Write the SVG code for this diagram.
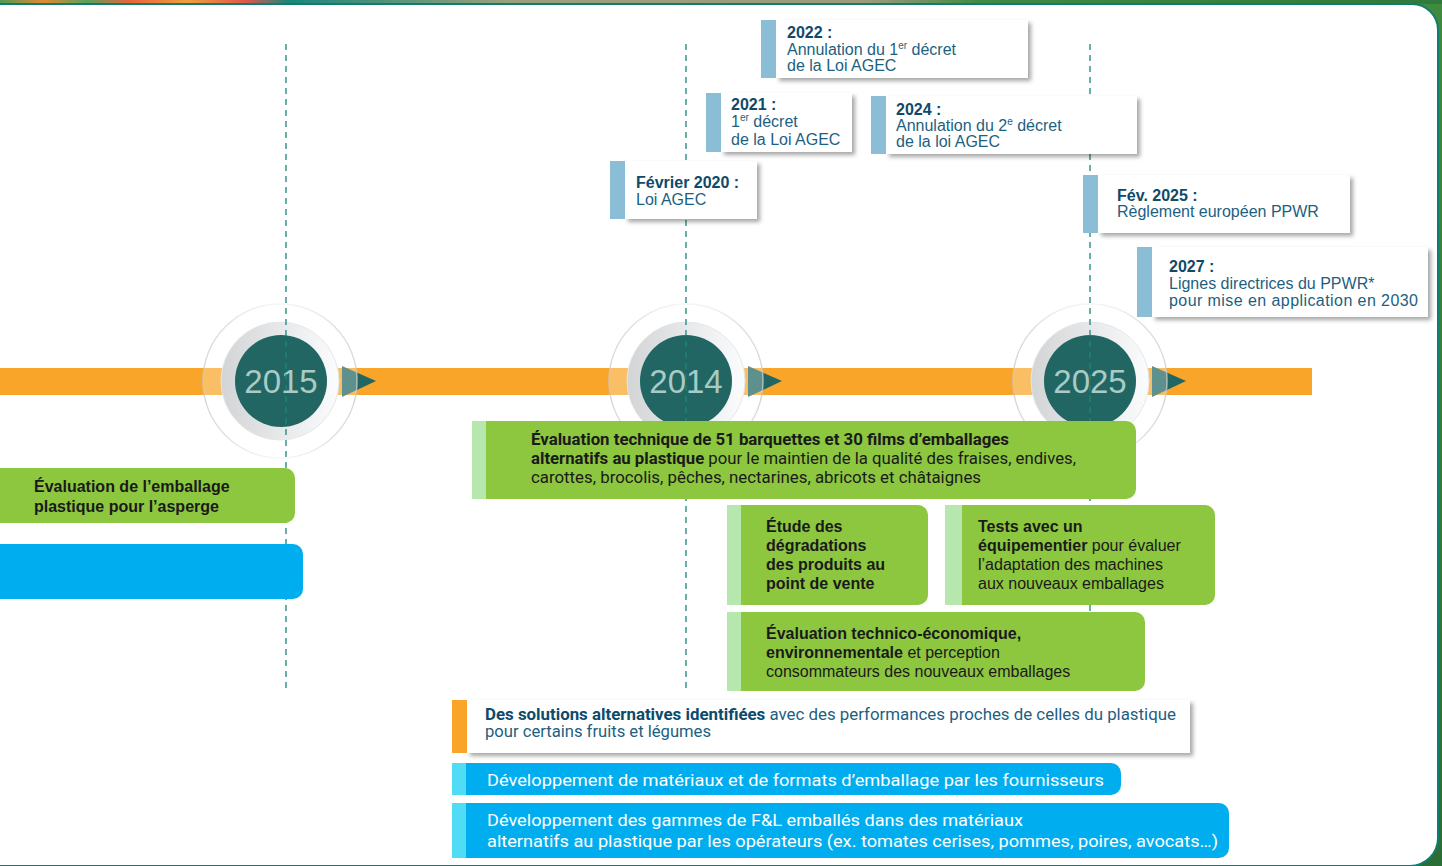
<svg xmlns="http://www.w3.org/2000/svg" width="1442" height="866" viewBox="0 0 1442 866">
<defs>
<style>
.ev{font-family:"Liberation Sans",Arial,sans-serif;font-size:16px;fill:#1d5f80}
.evb{font-weight:bold;fill:#0d4a6b}
.gx{font-family:"Liberation Sans",Arial,sans-serif;font-size:16px;fill:#1a1a1a}
.cx{font-family:"Roboto","Liberation Sans",Arial,sans-serif;font-size:16.5px;fill:#1a1a1a}
.wt{font-family:"Roboto","Liberation Sans",Arial,sans-serif;font-size:17px;fill:#ffffff}
.bt{font-family:"Roboto","Liberation Sans",Arial,sans-serif;font-size:16px;fill:#1d5f80}
.b{font-weight:bold}
.sup{font-size:10px}
.dash{stroke:#17877c;stroke-width:1.3;stroke-dasharray:6 5;fill:none}
.card{fill:#ffffff;filter:url(#sh)}
.bar{fill:#8bbdd6}
.green{fill:#8dc63f}
.gstripe{fill:#b6e8ad}
.blue{fill:#00aeef}
.bstripe{fill:#50dcf5}
.ring{fill:#ffffff;fill-opacity:0.28;stroke:url(#ringg);stroke-width:1.5}
.mid{fill:url(#midg);stroke:#e6e7e8;stroke-width:1}
.inner{fill:#216663}
.yr{font-family:"Liberation Sans",Arial,sans-serif;font-size:33px;fill:#a9cbc6;text-anchor:middle}
.tri{fill:#216663}
</style>
<linearGradient id="midg" x1="0" y1="0" x2="1" y2="0">
<stop offset="0" stop-color="#d3d4d6"/>
<stop offset="1" stop-color="#fbfcfd"/>
</linearGradient>
<linearGradient id="ringg" x1="0" y1="0" x2="1" y2="0">
<stop offset="0" stop-color="#c8c9cb" stop-opacity="0.8"/>
<stop offset="0.5" stop-color="#e4e5e6" stop-opacity="0.3"/>
<stop offset="1" stop-color="#c8c9cb" stop-opacity="0.8"/>
</linearGradient>
<linearGradient id="strip" x1="0" y1="0" x2="1" y2="0">
<stop offset="0" stop-color="#4f9a55"/>
<stop offset="0.03" stop-color="#e38a33"/>
<stop offset="0.06" stop-color="#5aa05a"/>
<stop offset="0.09" stop-color="#e8643a"/>
<stop offset="0.13" stop-color="#f0a040"/>
<stop offset="0.17" stop-color="#e0584a"/>
<stop offset="0.2" stop-color="#19877b"/>
<stop offset="0.35" stop-color="#9aa07a"/>
<stop offset="0.6" stop-color="#a09a7a"/>
<stop offset="0.68" stop-color="#3f8a45"/>
<stop offset="1" stop-color="#2f7a3a"/>
</linearGradient>
<linearGradient id="outg" x1="0" y1="0" x2="0" y2="1">
<stop offset="0" stop-color="#3f8a3d"/>
<stop offset="1" stop-color="#2b6e35"/>
</linearGradient>
<filter id="sh" x="-5%" y="-20%" width="115%" height="150%">
<feDropShadow dx="3" dy="3" stdDeviation="2" flood-color="#000000" flood-opacity="0.35"/>
</filter>
</defs>

<g id="frame">
<rect x="0" y="0" width="1442" height="866" fill="url(#outg)"/>
<rect x="0" y="0" width="1442" height="4" fill="url(#strip)"/>
<path d="M -4 4 H 1412 A 26 26 0 0 1 1438 30 V 838 A 28 28 0 0 1 1410 866 H -4 Z" fill="#ffffff" stroke="#0e7d70" stroke-width="2"/>
</g>

<g id="connectors">
<rect id="timeline" x="0" y="368" width="1312" height="27" fill="#f9a52a"/>
<path class="tri" d="M 342 366 L 376 381 L 342 397 Z"/>
<path class="tri" d="M 748 366 L 782 381 L 748 397 Z"/>
<path class="tri" d="M 1152 366 L 1186 381 L 1152 397 Z"/>
</g>

<g id="year-2015">
<circle class="ring" cx="280" cy="381" r="77"/>
<circle class="mid" cx="280" cy="381" r="59"/>
<circle class="inner" cx="281" cy="381" r="46"/>
<text class="yr" x="281" y="393">2015</text>
</g>
<g id="year-2014">
<circle class="ring" cx="686" cy="381" r="77"/>
<circle class="mid" cx="686" cy="381" r="59"/>
<circle class="inner" cx="686" cy="381" r="46"/>
<text class="yr" x="686" y="393">2014</text>
</g>
<g id="year-2025">
<circle class="ring" cx="1090" cy="381" r="77"/>
<circle class="mid" cx="1090" cy="381" r="59"/>
<circle class="inner" cx="1090" cy="381" r="46"/>
<text class="yr" x="1090" y="393">2025</text>
</g>

<g id="guides">
<line class="dash" x1="286" y1="44" x2="286" y2="688"/>
<line class="dash" x1="686" y1="44" x2="686" y2="688"/>
<line class="dash" x1="1090" y1="44" x2="1090" y2="688"/>
</g>

<g id="ev-2022">
<rect class="card" x="776" y="20" width="252" height="58"/>
<rect class="bar" x="761" y="20" width="15" height="58"/>
<text class="ev" x="787" y="38"><tspan class="evb">2022 :</tspan></text>
<text class="ev" x="787" y="55">Annulation du 1<tspan class="sup" dy="-6">er</tspan><tspan dy="6"> décret</tspan></text>
<text class="ev" x="787" y="71">de la Loi AGEC</text>
</g>
<g id="ev-2021">
<rect class="card" x="721" y="93" width="131" height="59"/>
<rect class="bar" x="706" y="93" width="15" height="59"/>
<text class="ev" x="731" y="110"><tspan class="evb">2021 :</tspan></text>
<text class="ev" x="731" y="127">1<tspan class="sup" dy="-6">er</tspan><tspan dy="6"> décret</tspan></text>
<text class="ev" x="731" y="145">de la Loi AGEC</text>
</g>
<g id="ev-2024">
<rect class="card" x="886" y="96" width="251" height="58"/>
<rect class="bar" x="871" y="96" width="15" height="58"/>
<text class="ev" x="896" y="115"><tspan class="evb">2024 :</tspan></text>
<text class="ev" x="896" y="131">Annulation du 2<tspan class="sup" dy="-6">e</tspan><tspan dy="6"> décret</tspan></text>
<text class="ev" x="896" y="147">de la loi AGEC</text>
</g>
<g id="ev-2020">
<rect class="card" x="625" y="161" width="132" height="58"/>
<rect class="bar" x="610" y="161" width="15" height="58"/>
<text class="ev" x="636" y="188"><tspan class="evb">Février 2020 :</tspan></text>
<text class="ev" x="636" y="205">Loi AGEC</text>
</g>
<g id="ev-2025">
<rect class="card" x="1098" y="175" width="252" height="58"/>
<rect class="bar" x="1083" y="175" width="15" height="58"/>
<text class="ev" x="1117" y="201"><tspan class="evb">Fév. 2025 :</tspan></text>
<text class="ev" x="1117" y="217">Règlement européen PPWR</text>
</g>
<g id="ev-2027">
<rect class="card" x="1152" y="247" width="276" height="70"/>
<rect class="bar" x="1137" y="247" width="15" height="70"/>
<text class="ev" x="1169" y="272"><tspan class="evb">2027 :</tspan></text>
<text class="ev" x="1169" y="289">Lignes directrices du PPWR*</text>
<text class="ev" x="1169" y="306" textLength="249" lengthAdjust="spacing">pour mise en application en 2030</text>
</g>

<g id="box-asperge">
<path class="green" d="M 0 468 H 285 A 10 10 0 0 1 295 478 V 513 A 10 10 0 0 1 285 523 H 0 Z"/>
<text class="gx b" x="34" y="492">Évaluation de l’emballage</text>
<text class="gx b" x="34" y="512">plastique pour l’asperge</text>
</g>
<g id="box-blue-left">
<path class="blue" d="M 0 544 H 293 A 10 10 0 0 1 303 554 V 589 A 10 10 0 0 1 293 599 H 0 Z"/>
</g>

<g id="box-evaluation-technique">
<path class="green" d="M 486 421 H 1126 A 10 10 0 0 1 1136 431 V 489 A 10 10 0 0 1 1126 499 H 486 Z"/>
<rect class="gstripe" x="472" y="421" width="14" height="78"/>
<text class="cx b" x="531" y="445" textLength="478" lengthAdjust="spacingAndGlyphs">Évaluation technique de 51 barquettes et 30 films d’emballages</text>
<text class="cx" x="531" y="464" textLength="545" lengthAdjust="spacingAndGlyphs"><tspan class="b">alternatifs au plastique</tspan> pour le maintien de la qualité des fraises, endives,</text>
<text class="cx" x="531" y="483" textLength="450" lengthAdjust="spacingAndGlyphs">carottes, brocolis, pêches, nectarines, abricots et châtaignes</text>
</g>

<g id="box-etude">
<path class="green" d="M 741 505 H 918 A 10 10 0 0 1 928 515 V 595 A 10 10 0 0 1 918 605 H 741 Z"/>
<rect class="gstripe" x="727" y="505" width="14" height="100"/>
<text class="gx b" x="766" y="532">Étude des</text>
<text class="gx b" x="766" y="551">dégradations</text>
<text class="gx b" x="766" y="570">des produits au</text>
<text class="gx b" x="766" y="589">point de vente</text>
</g>

<g id="box-tests">
<path class="green" d="M 962 505 H 1205 A 10 10 0 0 1 1215 515 V 595 A 10 10 0 0 1 1205 605 H 962 Z"/>
<rect class="gstripe" x="945" y="505" width="17" height="100"/>
<text class="gx b" x="978" y="532">Tests avec un</text>
<text class="gx" x="978" y="551"><tspan class="b">équipementier</tspan> pour évaluer</text>
<text class="gx" x="978" y="570">l’adaptation des machines</text>
<text class="gx" x="978" y="589">aux nouveaux emballages</text>
</g>

<g id="box-technico">
<path class="green" d="M 741 612 H 1135 A 10 10 0 0 1 1145 622 V 681 A 10 10 0 0 1 1135 691 H 741 Z"/>
<rect class="gstripe" x="727" y="612" width="14" height="79"/>
<text class="gx b" x="766" y="639">Évaluation technico-économique,</text>
<text class="gx" x="766" y="658"><tspan class="b">environnementale</tspan> et perception</text>
<text class="gx" x="766" y="677">consommateurs des nouveaux emballages</text>
</g>

<g id="box-solutions">
<rect class="card" x="467" y="700" width="723" height="53"/>
<rect x="452" y="700" width="15" height="53" fill="#f9a52a"/>
<text class="bt" x="485" y="720" textLength="691" lengthAdjust="spacingAndGlyphs"><tspan class="b" fill="#0d4a6b">Des solutions alternatives identifiées</tspan> avec des performances proches de celles du plastique</text>
<text class="bt" x="485" y="737" textLength="226" lengthAdjust="spacingAndGlyphs">pour certains fruits et légumes</text>
</g>

<g id="box-fournisseurs">
<path class="blue" d="M 466 763 H 1111 A 10 10 0 0 1 1121 773 V 785 A 10 10 0 0 1 1111 795 H 466 Z"/>
<rect class="bstripe" x="452" y="763" width="14" height="32"/>
<text class="wt" x="487" y="786" textLength="617" lengthAdjust="spacingAndGlyphs">Développement de matériaux et de formats d’emballage par les fournisseurs</text>
</g>

<g id="box-operateurs">
<path class="blue" d="M 466 803 H 1219 A 10 10 0 0 1 1229 813 V 848 A 10 10 0 0 1 1219 858 H 466 Z"/>
<rect class="bstripe" x="452" y="803" width="14" height="55"/>
<text class="wt" x="487" y="826" textLength="536" lengthAdjust="spacingAndGlyphs">Développement des gammes de F&amp;L emballés dans des matériaux</text>
<text class="wt" x="487" y="847" textLength="731" lengthAdjust="spacingAndGlyphs">alternatifs au plastique par les opérateurs (ex. tomates cerises, pommes, poires, avocats…)</text>
</g>
</svg>
